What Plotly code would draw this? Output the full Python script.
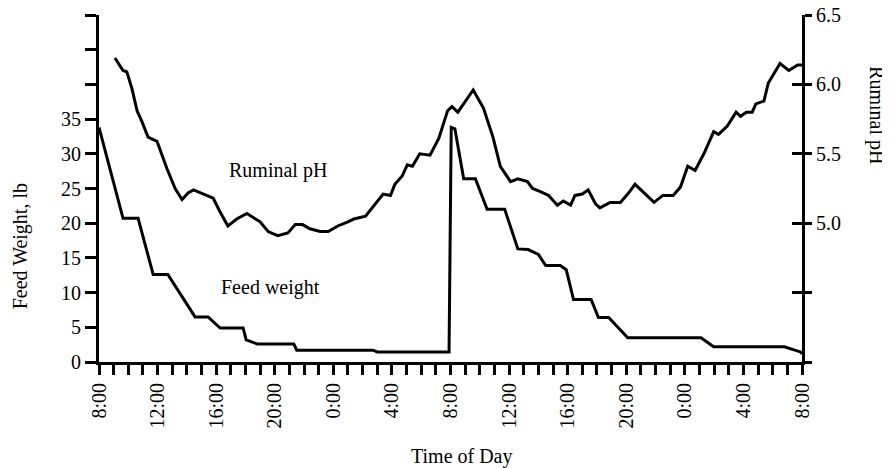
import plotly.graph_objects as go

# Time axis: hours after 8:00 on day 1
tick_hours = [0, 4, 8, 12, 16, 20, 24, 28, 32, 36, 40, 44, 48]
tick_labels = ["8:00", "12:00", "16:00", "20:00", "0:00", "4:00", "8:00",
               "12:00", "16:00", "20:00", "0:00", "4:00", "8:00"]

# Feed weight (lb)
feed_hours = [0, 1.64, 2.67, 3.7, 4.7, 6.56, 7.45, 8.27, 9.84, 10.05,
              10.8, 13.3, 13.5, 18.7, 19.0, 23.9, 24.05, 24.3, 24.9, 25.7,
              26.5, 27.7, 28.6, 29.3, 30.0, 30.5, 31.5, 31.9, 32.4, 33.6,
              34.1, 34.8, 36.1, 41.1, 41.97, 46.8, 47.9, 48.0]
feed_lb = [33.8, 20.7, 20.7, 12.6, 12.6, 6.5, 6.5, 4.9, 4.9, 3.2,
           2.6, 2.6, 1.7, 1.7, 1.45, 1.45, 33.8, 33.6, 26.4, 26.4,
           22.0, 22.0, 16.3, 16.2, 15.5, 13.9, 13.9, 13.3, 9.0, 9.0,
           6.4, 6.4, 3.5, 3.5, 2.2, 2.2, 1.45, 1.2]

# Ruminal pH
ph_hours = [1.09, 1.64, 1.9, 2.25, 2.6, 2.94, 3.35, 3.96, 4.65, 5.2,
            5.67, 6.1, 6.45, 6.9, 7.25, 7.8, 8.27, 8.8, 9.4, 10.1,
            11.0, 11.55, 12.2, 12.9, 13.4, 13.9, 14.4, 15.1, 15.65, 16.3,
            17.0, 17.4, 18.2, 18.7, 19.4, 19.9, 20.2, 20.7, 21.05, 21.4,
            21.9, 22.6, 23.2, 23.8, 24.1, 24.5, 25.0, 25.55, 26.25, 26.9,
            27.4, 28.1, 28.6, 29.25, 29.6, 30.1, 30.7, 31.3, 31.7, 32.2,
            32.5, 33.0, 33.4, 33.9, 34.2, 34.9, 35.6, 36.1, 36.6, 37.2,
            37.9, 38.5, 39.2, 39.7, 40.2, 40.7, 41.3, 41.97, 42.3, 42.9,
            43.5, 43.8, 44.2, 44.6, 44.85, 45.4, 45.7, 46.5, 47.1, 47.7,
            48.0]
ph = [6.19, 6.10, 6.09, 5.97, 5.81, 5.73, 5.62, 5.59, 5.39, 5.25,
      5.17, 5.22, 5.24, 5.22, 5.20, 5.18, 5.08, 4.98, 5.03, 5.07,
      5.01, 4.94, 4.91, 4.93, 4.99, 4.99, 4.96, 4.94, 4.94, 4.98,
      5.01, 5.03, 5.05, 5.12, 5.21, 5.20, 5.28, 5.34, 5.42, 5.41,
      5.50, 5.49, 5.61, 5.81, 5.84, 5.80, 5.88, 5.96, 5.83, 5.62,
      5.41, 5.30, 5.32, 5.30, 5.25, 5.23, 5.20, 5.13, 5.16, 5.13,
      5.20, 5.21, 5.24, 5.14, 5.11, 5.15, 5.15, 5.21, 5.28, 5.22,
      5.15, 5.20, 5.20, 5.26, 5.41, 5.38, 5.50, 5.66, 5.64, 5.70,
      5.80, 5.77, 5.80, 5.80, 5.86, 5.88, 6.01, 6.15, 6.10, 6.14,
      6.14]

left_ticks = [0, 5, 10, 15, 20, 25, 30, 35, 40, 45, 50]
left_labels = ["0", "5", "10", "15", "20", "25", "30", "35", "", "", ""]
right_ticks = [4.0, 4.5, 5.0, 5.5, 6.0, 6.5]
right_labels = ["", "", "5.0", "5.5", "6.0", "6.5"]

FONT = "Liberation Serif"

fig = go.Figure()
fig.add_trace(go.Scatter(x=feed_hours, y=feed_lb, mode="lines",
                         line=dict(color="black", width=3), yaxis="y"))
fig.add_trace(go.Scatter(x=ph_hours, y=ph, mode="lines",
                         line=dict(color="black", width=3), yaxis="y2"))
# dummy trace so the inner-tick overlay axis gets drawn
fig.add_trace(go.Scatter(x=[None], y=[None], mode="lines", yaxis="y3",
                         hoverinfo="skip"))

axis_common = dict(showgrid=False, zeroline=False, showline=True,
                   linecolor="black", linewidth=3, tickcolor="black",
                   tickwidth=3, automargin=False, ticklabeloverflow="allow")

# page body adds an 8px margin, so the figure is 8px smaller each way
fig.update_layout(
    width=882, height=460,
    margin=dict(l=91, r=88, t=7, b=106),
    paper_bgcolor="white", plot_bgcolor="white",
    showlegend=False,
    font=dict(family=FONT, size=20, color="black"),
    xaxis=dict(range=[0, 48], tickvals=tick_hours, ticktext=tick_labels,
               tickangle=-90, ticks="outside", ticklen=10,
               minor=dict(tickvals=list(range(49)), ticks="outside",
                          ticklen=10, tickwidth=3, tickcolor="black"),
               **axis_common),
    yaxis=dict(range=[0, 50], tickvals=left_ticks, ticktext=left_labels,
               ticks="outside", ticklen=11, **axis_common),
    yaxis2=dict(range=[4.0, 6.5], tickvals=right_ticks, ticktext=right_labels,
                overlaying="y", side="right", anchor="x",
                ticks="outside", ticklen=7, **axis_common),
    yaxis3=dict(range=[4.0, 6.5], tickvals=right_ticks, overlaying="y",
                side="right", anchor="x", ticks="inside", ticklen=10,
                tickwidth=3, tickcolor="black", showticklabels=False,
                showgrid=False, zeroline=False, showline=False),
)

fig.add_annotation(text="Ruminal pH", x=12.2, y=27.6, xref="x", yref="y",
                   showarrow=False, font=dict(size=20))
fig.add_annotation(text="Feed weight", x=11.7, y=10.8, xref="x", yref="y",
                   showarrow=False, font=dict(size=20))
fig.add_annotation(text="Feed Weight, lb", x=-0.112, y=0.334, xref="paper",
                   yref="paper", textangle=-90, showarrow=False,
                   xanchor="center", yanchor="middle", font=dict(size=20))
fig.add_annotation(text="Time of Day", x=0.516, y=-0.272, xref="paper",
                   yref="paper", showarrow=False, xanchor="center",
                   yanchor="middle", font=dict(size=20))
fig.add_annotation(text="Ruminal pH", x=1.105, y=0.712, xref="paper",
                   yref="paper", textangle=90, showarrow=False,
                   xanchor="center", yanchor="middle", font=dict(size=20))

fig.write_html("out.html")
